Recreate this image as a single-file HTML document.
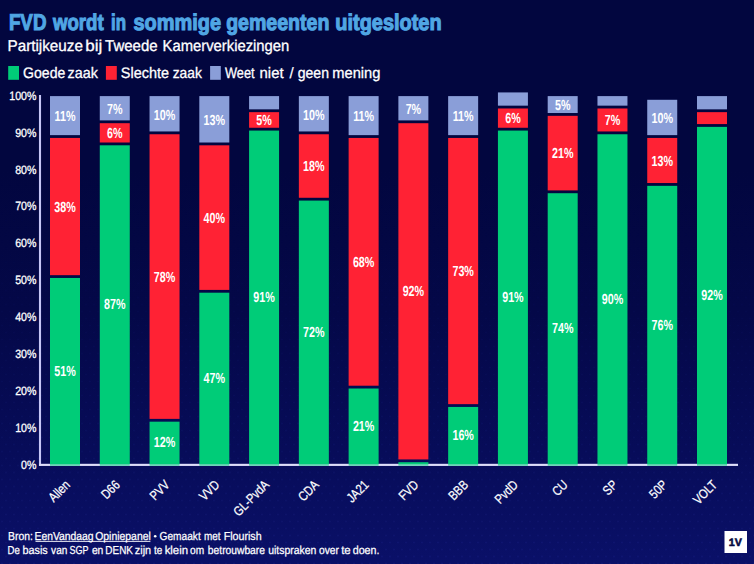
<!DOCTYPE html>
<html><head><meta charset="utf-8"><title>FVD wordt in sommige gemeenten uitgesloten</title>
<style>
html,body{margin:0;padding:0;background:#02063f;}
body{width:754px;height:564px;overflow:hidden;}
svg{display:block;font-family:"Liberation Sans",sans-serif;text-rendering:geometricPrecision;}
.t{font-weight:bold;fill:#50a6e4;font-size:22.8px;stroke:#50a6e4;stroke-width:1.1px;}
.s{fill:#fff;font-size:15.6px;stroke:#fff;stroke-width:0.3px;}
.l{fill:#fff;font-size:15.2px;stroke:#fff;stroke-width:0.3px;}
.y{fill:#fff;font-size:12px;text-anchor:end;stroke:#fff;stroke-width:0.3px;}
.v{fill:#fff;font-size:14.6px;font-weight:bold;text-anchor:middle;}
.x{fill:#fff;font-size:13.2px;text-anchor:end;stroke:#fff;stroke-width:0.25px;}
.f{fill:#fff;font-size:11.6px;stroke:#fff;stroke-width:0.25px;}
</style></head><body>
<svg width="754" height="564" viewBox="0 0 754 564">
<defs>
<linearGradient id="bg" x1="0" y1="0" x2="0" y2="1">
<stop offset="0" stop-color="#02063f"/><stop offset="0.3" stop-color="#02063f"/><stop offset="0.55" stop-color="#040848"/><stop offset="0.8" stop-color="#070c59"/><stop offset="1" stop-color="#0a1068"/>
</linearGradient>
<pattern id="dots" width="8" height="14" patternUnits="userSpaceOnUse"><circle cx="2" cy="3.5" r="1.1" fill="#4a5ad8"/><circle cx="6" cy="10.5" r="1.1" fill="#4a5ad8"/></pattern>
<linearGradient id="fade" x1="0" y1="0" x2="0" y2="1"><stop offset="0.3" stop-color="#fff" stop-opacity="0"/><stop offset="1" stop-color="#fff" stop-opacity="0.085"/></linearGradient>
<mask id="m"><rect width="754" height="564" fill="url(#fade)"/></mask>
</defs>
<rect width="754" height="564" fill="url(#bg)"/>
<rect width="754" height="564" fill="url(#dots)" mask="url(#m)"/>

<text class="t" x="8.91" y="29.5" textLength="37.56" lengthAdjust="spacingAndGlyphs">FVD</text>
<text class="t" x="53.02" y="29.5" textLength="50.64" lengthAdjust="spacingAndGlyphs">wordt</text>
<text class="t" x="111.07" y="29.5" textLength="14.96" lengthAdjust="spacingAndGlyphs">in</text>
<text class="t" x="133.40" y="29.5" textLength="87.63" lengthAdjust="spacingAndGlyphs">sommige</text>
<text class="t" x="226.15" y="29.5" textLength="103.19" lengthAdjust="spacingAndGlyphs">gemeenten</text>
<text class="t" x="335.32" y="29.5" textLength="106.29" lengthAdjust="spacingAndGlyphs">uitgesloten</text>
<text class="s" x="7.49" y="50.9" textLength="75.45" lengthAdjust="spacingAndGlyphs">Partijkeuze</text>
<text class="s" x="85.32" y="50.9" textLength="17.01" lengthAdjust="spacingAndGlyphs">bij</text>
<text class="s" x="105.08" y="50.9" textLength="52.48" lengthAdjust="spacingAndGlyphs">Tweede</text>
<text class="s" x="162.53" y="50.9" textLength="126.80" lengthAdjust="spacingAndGlyphs">Kamerverkiezingen</text>
<text class="l" x="23.03" y="77.5" textLength="42.28" lengthAdjust="spacingAndGlyphs">Goede</text>
<text class="l" x="67.60" y="77.5" textLength="30.32" lengthAdjust="spacingAndGlyphs">zaak</text>
<text class="l" x="120.81" y="77.5" textLength="48.31" lengthAdjust="spacingAndGlyphs">Slechte</text>
<text class="l" x="172.70" y="77.5" textLength="29.15" lengthAdjust="spacingAndGlyphs">zaak</text>
<text class="l" x="224.98" y="77.5" textLength="29.59" lengthAdjust="spacingAndGlyphs">Weet</text>
<text class="l" x="259.51" y="77.5" textLength="24.12" lengthAdjust="spacingAndGlyphs">niet</text>
<text class="l" x="289.6" y="77.5" style="stroke-width:0.15px">/</text>
<text class="l" x="297.74" y="77.5" textLength="31.24" lengthAdjust="spacingAndGlyphs">geen</text>
<text class="l" x="332.31" y="77.5" textLength="48.09" lengthAdjust="spacingAndGlyphs">mening</text>
<text class="f" x="8.05" y="539.9" textLength="24.83" lengthAdjust="spacingAndGlyphs">Bron:</text>
<text class="f" x="34.55" y="539.9" textLength="59.07" lengthAdjust="spacingAndGlyphs">EenVandaag</text>
<text class="f" x="95.16" y="539.9" textLength="55.66" lengthAdjust="spacingAndGlyphs">Opiniepanel</text>
<text class="f" x="159.54" y="539.9" textLength="41.21" lengthAdjust="spacingAndGlyphs">Gemaakt</text>
<text class="f" x="203.98" y="539.9" textLength="16.57" lengthAdjust="spacingAndGlyphs">met</text>
<text class="f" x="223.64" y="539.9" textLength="38.00" lengthAdjust="spacingAndGlyphs">Flourish</text>
<text class="f" x="7.58" y="553.8" textLength="12.30" lengthAdjust="spacingAndGlyphs">De</text>
<text class="f" x="22.48" y="553.8" textLength="25.23" lengthAdjust="spacingAndGlyphs">basis</text>
<text class="f" x="51.12" y="553.8" textLength="16.25" lengthAdjust="spacingAndGlyphs">van</text>
<text class="f" x="69.62" y="553.8" textLength="18.96" lengthAdjust="spacingAndGlyphs">SGP</text>
<text class="f" x="91.88" y="553.8" textLength="11.50" lengthAdjust="spacingAndGlyphs">en</text>
<text class="f" x="105.35" y="553.8" textLength="27.59" lengthAdjust="spacingAndGlyphs">DENK</text>
<text class="f" x="134.74" y="553.8" textLength="16.42" lengthAdjust="spacingAndGlyphs">zijn</text>
<text class="f" x="153.89" y="553.8" textLength="8.30" lengthAdjust="spacingAndGlyphs">te</text>
<text class="f" x="164.64" y="553.8" textLength="23.49" lengthAdjust="spacingAndGlyphs">klein</text>
<text class="f" x="190.08" y="553.8" textLength="14.08" lengthAdjust="spacingAndGlyphs">om</text>
<text class="f" x="207.86" y="553.8" textLength="57.10" lengthAdjust="spacingAndGlyphs">betrouwbare</text>
<text class="f" x="268.21" y="553.8" textLength="48.23" lengthAdjust="spacingAndGlyphs">uitspraken</text>
<text class="f" x="319.08" y="553.8" textLength="19.87" lengthAdjust="spacingAndGlyphs">over</text>
<text class="f" x="341.20" y="553.8" textLength="9.53" lengthAdjust="spacingAndGlyphs">te</text>
<text class="f" x="352.72" y="553.8" textLength="26.74" lengthAdjust="spacingAndGlyphs">doen.</text>
<rect x="8.2" y="66" width="10.8" height="13.8" fill="#00cc78"/>
<rect x="105.9" y="66" width="10.9" height="13.8" fill="#ff2234"/>
<rect x="210.1" y="66" width="10.7" height="13.8" fill="#8a9ed8"/>
<rect x="38.95" y="95" width="2.1" height="370.8" fill="#c6c6f6"/>
<rect x="39" y="463.8" width="699" height="2.1" fill="#dedefa"/>
<rect x="50.00" y="277.96" width="30" height="187.94" fill="#00cc78"/>
<text class="v" transform="translate(65.00,375.63) scale(0.735,1)">51%</text>
<rect x="50.00" y="137.94" width="30" height="137.23" fill="#ff2234"/>
<text class="v" transform="translate(65.00,211.65) scale(0.735,1)">38%</text>
<rect x="50.00" y="96.10" width="30" height="39.03" fill="#8a9ed8"/>
<text class="v" transform="translate(65.00,121.37) scale(0.735,1)">11%</text>
<rect x="99.77" y="145.30" width="30" height="320.60" fill="#00cc78"/>
<text class="v" transform="translate(114.77,309.30) scale(0.735,1)">87%</text>
<rect x="99.77" y="123.19" width="30" height="19.31" fill="#ff2234"/>
<text class="v" transform="translate(114.77,137.95) scale(0.735,1)">6%</text>
<rect x="99.77" y="96.10" width="30" height="24.30" fill="#8a9ed8"/>
<text class="v" transform="translate(114.77,114.00) scale(0.735,1)">7%</text>
<rect x="149.54" y="421.68" width="30" height="44.22" fill="#00cc78"/>
<text class="v" transform="translate(164.54,447.49) scale(0.735,1)">12%</text>
<rect x="149.54" y="134.25" width="30" height="284.63" fill="#ff2234"/>
<text class="v" transform="translate(164.54,281.66) scale(0.735,1)">78%</text>
<rect x="149.54" y="96.10" width="30" height="35.35" fill="#8a9ed8"/>
<text class="v" transform="translate(164.54,119.52) scale(0.735,1)">10%</text>
<rect x="199.31" y="292.70" width="30" height="173.19" fill="#00cc78"/>
<text class="v" transform="translate(214.31,383.00) scale(0.735,1)">47%</text>
<rect x="199.31" y="145.31" width="30" height="144.60" fill="#ff2234"/>
<text class="v" transform="translate(214.31,222.71) scale(0.735,1)">40%</text>
<rect x="199.31" y="96.10" width="30" height="46.41" fill="#8a9ed8"/>
<text class="v" transform="translate(214.31,125.05) scale(0.735,1)">13%</text>
<rect x="249.08" y="130.57" width="30" height="335.33" fill="#00cc78"/>
<text class="v" transform="translate(264.08,301.93) scale(0.735,1)">91%</text>
<rect x="249.08" y="112.14" width="30" height="15.62" fill="#ff2234"/>
<text class="v" transform="translate(264.08,125.05) scale(0.735,1)">5%</text>
<rect x="249.08" y="96.10" width="30" height="13.24" fill="#8a9ed8"/>
<rect x="298.85" y="200.58" width="30" height="265.32" fill="#00cc78"/>
<text class="v" transform="translate(313.85,336.94) scale(0.735,1)">72%</text>
<rect x="298.85" y="134.25" width="30" height="63.53" fill="#ff2234"/>
<text class="v" transform="translate(313.85,171.12) scale(0.735,1)">18%</text>
<rect x="298.85" y="96.10" width="30" height="35.35" fill="#8a9ed8"/>
<text class="v" transform="translate(313.85,119.53) scale(0.735,1)">10%</text>
<rect x="348.62" y="388.51" width="30" height="77.38" fill="#00cc78"/>
<text class="v" transform="translate(363.62,430.91) scale(0.735,1)">21%</text>
<rect x="348.62" y="137.94" width="30" height="247.78" fill="#ff2234"/>
<text class="v" transform="translate(363.62,266.93) scale(0.735,1)">68%</text>
<rect x="348.62" y="96.10" width="30" height="39.03" fill="#8a9ed8"/>
<text class="v" transform="translate(363.62,121.37) scale(0.735,1)">11%</text>
<rect x="398.38" y="462.21" width="30" height="3.69" fill="#00cc78"/>
<rect x="398.38" y="123.20" width="30" height="336.22" fill="#ff2234"/>
<text class="v" transform="translate(413.38,296.41) scale(0.735,1)">92%</text>
<rect x="398.38" y="96.10" width="30" height="24.30" fill="#8a9ed8"/>
<text class="v" transform="translate(413.38,114.00) scale(0.735,1)">7%</text>
<rect x="448.15" y="406.94" width="30" height="58.96" fill="#00cc78"/>
<text class="v" transform="translate(463.15,440.12) scale(0.735,1)">16%</text>
<rect x="448.15" y="137.94" width="30" height="266.21" fill="#ff2234"/>
<text class="v" transform="translate(463.15,276.14) scale(0.735,1)">73%</text>
<rect x="448.15" y="96.10" width="30" height="39.03" fill="#8a9ed8"/>
<text class="v" transform="translate(463.15,121.37) scale(0.735,1)">11%</text>
<rect x="497.92" y="130.57" width="30" height="335.33" fill="#00cc78"/>
<text class="v" transform="translate(512.92,301.93) scale(0.735,1)">91%</text>
<rect x="497.92" y="108.46" width="30" height="19.31" fill="#ff2234"/>
<text class="v" transform="translate(512.92,123.21) scale(0.735,1)">6%</text>
<rect x="497.92" y="92.42" width="30" height="13.24" fill="#8a9ed8"/>
<rect x="547.69" y="193.21" width="30" height="272.69" fill="#00cc78"/>
<text class="v" transform="translate(562.69,333.25) scale(0.735,1)">74%</text>
<rect x="547.69" y="115.83" width="30" height="74.58" fill="#ff2234"/>
<text class="v" transform="translate(562.69,158.22) scale(0.735,1)">21%</text>
<rect x="547.69" y="96.10" width="30" height="16.92" fill="#8a9ed8"/>
<text class="v" transform="translate(562.69,110.31) scale(0.735,1)">5%</text>
<rect x="597.46" y="134.25" width="30" height="331.65" fill="#00cc78"/>
<text class="v" transform="translate(612.46,303.78) scale(0.735,1)">90%</text>
<rect x="597.46" y="108.46" width="30" height="22.99" fill="#ff2234"/>
<text class="v" transform="translate(612.46,125.05) scale(0.735,1)">7%</text>
<rect x="597.46" y="96.10" width="30" height="9.55" fill="#8a9ed8"/>
<rect x="647.23" y="185.84" width="30" height="280.06" fill="#00cc78"/>
<text class="v" transform="translate(662.23,329.57) scale(0.735,1)">76%</text>
<rect x="647.23" y="137.94" width="30" height="45.10" fill="#ff2234"/>
<text class="v" transform="translate(662.23,165.59) scale(0.735,1)">13%</text>
<rect x="647.23" y="99.78" width="30" height="35.35" fill="#8a9ed8"/>
<text class="v" transform="translate(662.23,123.21) scale(0.735,1)">10%</text>
<rect x="697.00" y="126.88" width="30" height="339.02" fill="#00cc78"/>
<text class="v" transform="translate(712.00,300.09) scale(0.735,1)">92%</text>
<rect x="697.00" y="112.14" width="30" height="11.94" fill="#ff2234"/>
<rect x="697.00" y="96.10" width="30" height="13.24" fill="#8a9ed8"/>
<rect x="39" y="464.2" width="699" height="1.7" fill="#dedefa" fill-opacity="0.5"/>
<text class="y" transform="translate(36.40,468.70) scale(0.885,1)">0%</text>
<text class="y" transform="translate(36.40,431.80) scale(0.885,1)">10%</text>
<text class="y" transform="translate(36.40,394.90) scale(0.885,1)">20%</text>
<text class="y" transform="translate(36.40,358.00) scale(0.885,1)">30%</text>
<text class="y" transform="translate(36.40,321.10) scale(0.885,1)">40%</text>
<text class="y" transform="translate(36.40,284.20) scale(0.885,1)">50%</text>
<text class="y" transform="translate(36.40,247.30) scale(0.885,1)">60%</text>
<text class="y" transform="translate(36.40,210.40) scale(0.885,1)">70%</text>
<text class="y" transform="translate(36.40,173.50) scale(0.885,1)">80%</text>
<text class="y" transform="translate(36.40,136.60) scale(0.885,1)">90%</text>
<text class="y" transform="translate(36.40,99.70) scale(0.885,1)">100%</text>
<text class="x" transform="translate(70.90,485.70) rotate(-45) scale(0.825,1)">Allen</text>
<text class="x" transform="translate(120.67,485.70) rotate(-45) scale(0.825,1)">D66</text>
<text class="x" transform="translate(170.44,485.70) rotate(-45) scale(0.825,1)">PVV</text>
<text class="x" transform="translate(220.21,485.70) rotate(-45) scale(0.825,1)">VVD</text>
<text class="x" transform="translate(269.98,485.70) rotate(-45) scale(0.825,1)">GL-PvdA</text>
<text class="x" transform="translate(319.75,485.70) rotate(-45) scale(0.825,1)">CDA</text>
<text class="x" transform="translate(369.52,485.70) rotate(-45) scale(0.825,1)">JA21</text>
<text class="x" transform="translate(419.28,485.70) rotate(-45) scale(0.825,1)">FVD</text>
<text class="x" transform="translate(469.05,485.70) rotate(-45) scale(0.825,1)">BBB</text>
<text class="x" transform="translate(518.82,485.70) rotate(-45) scale(0.825,1)">PvdD</text>
<text class="x" transform="translate(568.59,485.70) rotate(-45) scale(0.825,1)">CU</text>
<text class="x" transform="translate(618.36,485.70) rotate(-45) scale(0.825,1)">SP</text>
<text class="x" transform="translate(668.13,485.70) rotate(-45) scale(0.825,1)">50P</text>
<text class="x" transform="translate(717.90,485.70) rotate(-45) scale(0.825,1)">VOLT</text>
<circle cx="155.2" cy="536.2" r="1.3" fill="#fff"/>
<rect x="35.5" y="540.9" width="114.9" height="0.9" fill="#fff"/>
<rect x="724.5" y="531" width="22.5" height="22" fill="#fff"/>
<text transform="translate(735.3,545.8) scale(0.99,1)" text-anchor="middle" font-size="10.8" font-weight="bold" fill="#05083f" stroke="#05083f" stroke-width="0.55">1V</text>
</svg></body></html>
